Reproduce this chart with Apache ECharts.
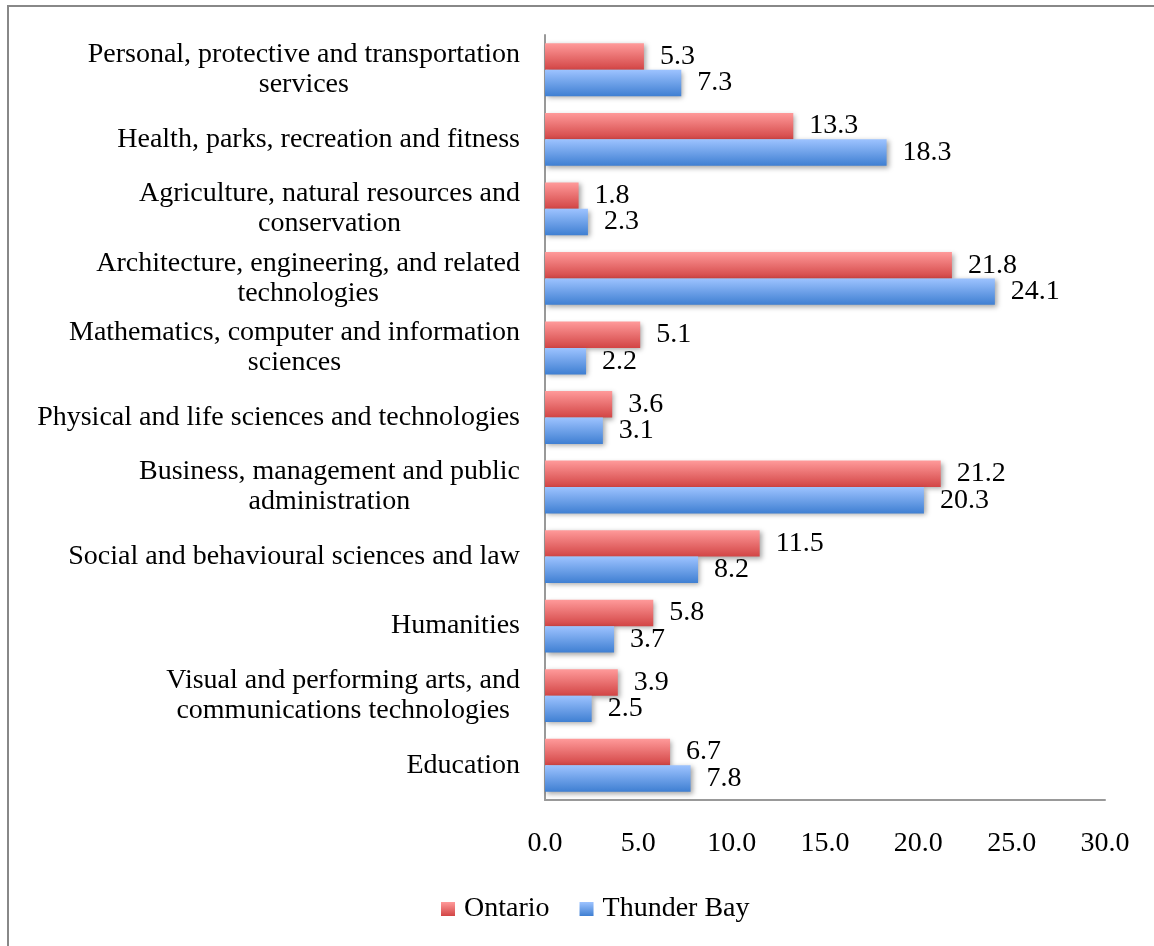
<!DOCTYPE html>
<html>
<head>
<meta charset="utf-8">
<script src="https://cdn.jsdelivr.net/npm/echarts@6/dist/echarts.min.js"></script>
<style>html,body{margin:0;padding:0;background:#fff;}#chart{width:1154px;height:946px;}</style>
</head>
<body>
<div id="chart"></div>
<script>
const categories = [
  "Personal, protective and transportation\nservices",
  "Health, parks, recreation and fitness",
  "Agriculture, natural resources and\nconservation",
  "Architecture, engineering, and related\ntechnologies",
  "Mathematics, computer and information\nsciences",
  "Physical and life sciences and technologies",
  "Business, management and public\nadministration",
  "Social and behavioural sciences and law",
  "Humanities",
  "Visual and performing arts, and\ncommunications technologies",
  "Education"
];
const ontario = [5.3, 13.3, 1.8, 21.8, 5.1, 3.6, 21.2, 11.5, 5.8, 3.9, 6.7];
const thunderBay = [7.3, 18.3, 2.3, 24.1, 2.2, 3.1, 20.3, 8.2, 3.7, 2.5, 7.8];
const seriesNames = ["Ontario", "Thunder Bay"];
const xTicks = { min: 0, max: 30, interval: 5 };

const FONT = "Liberation Serif";
const FS = 28;
const chart = echarts.init(document.getElementById('chart'));

function grad(top, bottom) {
  return new echarts.graphic.LinearGradient(0, 0, 0, 1, [
    { offset: 0, color: top }, { offset: 1, color: bottom }
  ]);
}
const redGrad = grad('#FF9A9A', '#D24545');
const blueGrad = grad('#9DC3FF', '#3F7FD2');

function catLabel(v) {
  const lines = v.split('\n');
  if (v.indexOf('Visual') === 0) {
    return '{r|' + lines[0] + '}\n{rp|' + lines[1] + '}';
  }
  return lines.map(l => '{c|' + l + '}').join('\n');
}

chart.setOption({
  animation: false,
  graphic: [{
    type: 'rect', shape: { x: 8, y: 6, width: 1160, height: 960 },
    style: { fill: 'none', stroke: '#888', lineWidth: 2 }, silent: true
  }],
  grid: { left: 545, right: 49, top: 35, bottom: 146, containLabel: false },
  legend: {
    bottom: 18, left: 436, itemWidth: 14, itemHeight: 14, itemGap: 30,
    icon: 'rect',
    textStyle: { fontFamily: FONT, fontSize: FS, color: '#000', padding: [0, 0, 0, 4] },
    data: seriesNames
  },
  xAxis: {
    type: 'value', min: xTicks.min, max: xTicks.max, interval: xTicks.interval,
    axisLine: { show: true, lineStyle: { color: '#999', width: 2 } },
    axisTick: { show: false }, splitLine: { show: false },
    axisLabel: { fontFamily: FONT, fontSize: FS, color: '#000', margin: 30,
      formatter: v => v.toFixed(1) }
  },
  yAxis: {
    type: 'category', inverse: true, data: categories,
    axisLine: { show: true, lineStyle: { color: '#999', width: 2 } },
    axisTick: { show: false },
    axisLabel: {
      fontFamily: FONT, fontSize: FS, color: '#000', margin: 25, lineHeight: 30,
      formatter: catLabel,
      rich: {
        c: { align: 'center', fontFamily: FONT, fontSize: FS, lineHeight: 30, color: '#000' },
        r: { align: 'right', fontFamily: FONT, fontSize: FS, lineHeight: 30, color: '#000' },
        rp: { align: 'right', fontFamily: FONT, fontSize: FS, lineHeight: 30, color: '#000', padding: [0, 10, 0, 0] }
      }
    }
  },
  series: [
    { name: seriesNames[0], type: 'bar', data: ontario, barGap: '0%', barCategoryGap: '24%',
      itemStyle: { color: redGrad, shadowColor: 'rgba(0,0,0,0.35)', shadowBlur: 5, shadowOffsetX: 2, shadowOffsetY: 2 },
      label: { show: true, position: 'right', distance: 16, fontFamily: FONT, fontSize: FS, color: '#000',
        formatter: p => p.value.toFixed(1) } },
    { name: seriesNames[1], type: 'bar', data: thunderBay, barGap: '0%', barCategoryGap: '24%',
      itemStyle: { color: blueGrad, shadowColor: 'rgba(0,0,0,0.35)', shadowBlur: 5, shadowOffsetX: 2, shadowOffsetY: 2 },
      label: { show: true, position: 'right', distance: 16, fontFamily: FONT, fontSize: FS, color: '#000',
        formatter: p => p.value.toFixed(1) } }
  ]
});
</script>
</body>
</html>
